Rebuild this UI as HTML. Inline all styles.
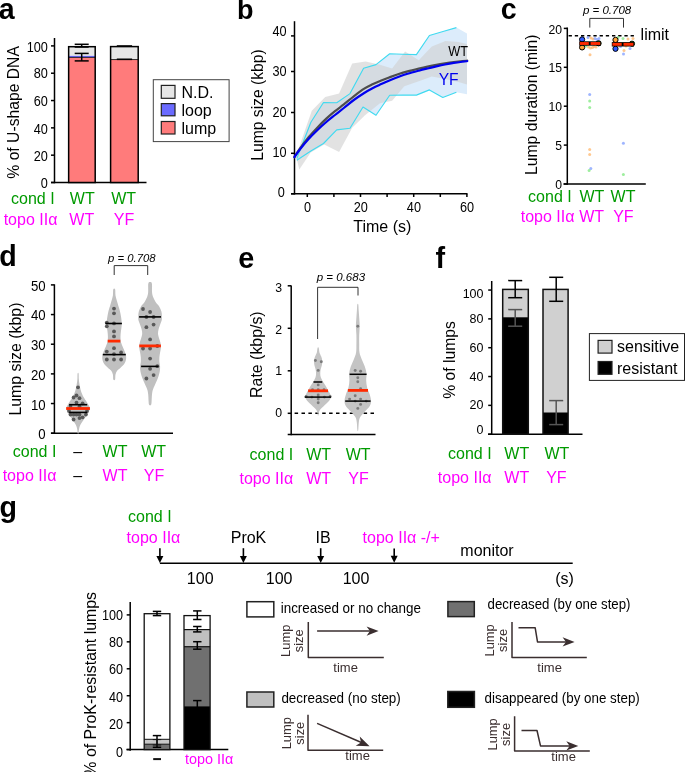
<!DOCTYPE html>
<html><head><meta charset="utf-8"><title>Figure</title>
<style>
html,body{margin:0;padding:0;background:#fff;}
body{width:685px;height:772px;overflow:hidden;}
svg{display:block;font-family:"Liberation Sans", sans-serif;will-change:transform;}
</style></head><body>
<svg width="685" height="772" viewBox="0 0 685 772">
<text x="-1.36" y="19.25" font-size="28.6" font-weight="bold">a</text>
<text x="237" y="18.8" font-size="27" font-weight="bold">b</text>
<text x="500.81" y="19.45" font-size="28.6" font-weight="bold">c</text>
<text x="-0.73" y="266.02" font-size="28.6" font-weight="bold">d</text>
<text x="238.37" y="267.91" font-size="28.8" font-weight="bold">e</text>
<text x="435.38" y="267.58" font-size="28.8" font-weight="bold">f</text>
<text x="-0.46" y="516.62" font-size="28.6" font-weight="bold">g</text>
<line x1="54.5" y1="38" x2="54.5" y2="183.25" stroke="#000" stroke-width="1.5" />
<line x1="51" y1="182.5" x2="54.5" y2="182.5" stroke="#000" stroke-width="1.5" />
<text x="47.9" y="187.5" font-size="13.84" text-anchor="end" textLength="7.06" lengthAdjust="spacingAndGlyphs">0</text>
<line x1="51" y1="155.18" x2="54.5" y2="155.18" stroke="#000" stroke-width="1.5" />
<text x="47.9" y="161.3" font-size="13.84" text-anchor="end" textLength="14.13" lengthAdjust="spacingAndGlyphs">20</text>
<line x1="51" y1="127.86" x2="54.5" y2="127.86" stroke="#000" stroke-width="1.5" />
<text x="47.9" y="134.1" font-size="13.84" text-anchor="end" textLength="14.13" lengthAdjust="spacingAndGlyphs">40</text>
<line x1="51" y1="100.54" x2="54.5" y2="100.54" stroke="#000" stroke-width="1.5" />
<text x="47.9" y="106" font-size="13.84" text-anchor="end" textLength="14.13" lengthAdjust="spacingAndGlyphs">60</text>
<line x1="51" y1="73.22" x2="54.5" y2="73.22" stroke="#000" stroke-width="1.5" />
<text x="47.9" y="78.1" font-size="13.84" text-anchor="end" textLength="14.13" lengthAdjust="spacingAndGlyphs">80</text>
<line x1="51" y1="45.9" x2="54.5" y2="45.9" stroke="#000" stroke-width="1.5" />
<text x="47.9" y="51.5" font-size="13.84" text-anchor="end" textLength="21.19" lengthAdjust="spacingAndGlyphs">100</text>
<line x1="51" y1="182.5" x2="146.5" y2="182.5" stroke="#000" stroke-width="1.5" />
<rect x="68.65" y="57.37" width="26.55" height="125.13" fill="#ff7b7b" />
<rect x="68.65" y="55.6" width="26.55" height="1.78" fill="#6b6bff" />
<rect x="68.65" y="46.7" width="26.55" height="8.9" fill="#e6e6e6" />
<rect x="68.65" y="46.7" width="26.55" height="135.8" fill="none" stroke="#000" stroke-width="1.5" />
<line x1="68.65" y1="57.37" x2="95.2" y2="57.37" stroke="#000" stroke-width="0.8" />
<line x1="81.7" y1="44.3" x2="81.7" y2="47" stroke="#000" stroke-width="1.5" />
<line x1="74.7" y1="44.3" x2="88.7" y2="44.3" stroke="#000" stroke-width="1.5" />
<line x1="74.7" y1="47" x2="88.7" y2="47" stroke="#000" stroke-width="1.5" />
<line x1="81.7" y1="53.4" x2="81.7" y2="60.9" stroke="#000" stroke-width="1.5" />
<line x1="74.7" y1="53.4" x2="88.7" y2="53.4" stroke="#000" stroke-width="1.5" />
<line x1="74.7" y1="60.9" x2="88.7" y2="60.9" stroke="#000" stroke-width="1.5" />
<rect x="110.6" y="59.56" width="27.6" height="122.94" fill="#ff7b7b" />
<rect x="110.6" y="46.6" width="27.6" height="12.96" fill="#e6e6e6" />
<rect x="110.6" y="46.6" width="27.6" height="135.9" fill="none" stroke="#000" stroke-width="1.5" />
<line x1="110.6" y1="59.56" x2="138.2" y2="59.56" stroke="#000" stroke-width="0.8" />
<line x1="116.8" y1="59.3" x2="132.1" y2="59.3" stroke="#000" stroke-width="1.6" />
<line x1="116.8" y1="46" x2="132.1" y2="46" stroke="#000" stroke-width="1.6" />
<rect x="153.3" y="79.7" width="75.8" height="61.9" fill="#fff" stroke="#444" stroke-width="1" />
<rect x="161.3" y="85.4" width="13.7" height="12.9" fill="#e6e6e6" stroke="#222" stroke-width="1.2" />
<rect x="161.3" y="103.6" width="13.7" height="12.2" fill="#6b6bff" stroke="#222" stroke-width="1.2" />
<rect x="161.3" y="121.5" width="13.7" height="12.5" fill="#ff7b7b" stroke="#222" stroke-width="1.2" />
<text x="181.5" y="97.9" font-size="16">N.D.</text>
<text x="181.5" y="115.5" font-size="16">loop</text>
<text x="181.5" y="133.5" font-size="16">lump</text>
<text x="18.7" y="112.4" font-size="15.7" text-anchor="middle" transform="rotate(-90 18.7 112.4)">% of U-shape DNA</text>
<text x="54.6" y="204.4" font-size="16" fill="#009a00" text-anchor="end">cond I</text>
<text x="82.3" y="204.1" font-size="16" fill="#009a00" text-anchor="middle">WT</text>
<text x="123.6" y="204.1" font-size="16" fill="#009a00" text-anchor="middle">WT</text>
<text x="57.4" y="224.9" font-size="16" fill="#ff00ff" text-anchor="end">topo IIα</text>
<text x="81.8" y="224.6" font-size="16" fill="#ff00ff" text-anchor="middle">WT</text>
<text x="124.1" y="224.6" font-size="16" fill="#ff00ff" text-anchor="middle">YF</text>
<line x1="294.5" y1="21.2" x2="294.5" y2="194.55" stroke="#000" stroke-width="1.5" />
<line x1="291" y1="193.8" x2="294.5" y2="193.8" stroke="#000" stroke-width="1.5" />
<text x="284.8" y="197" font-size="13.84" text-anchor="end" textLength="7.06" lengthAdjust="spacingAndGlyphs">0</text>
<line x1="291" y1="153.3" x2="294.5" y2="153.3" stroke="#000" stroke-width="1.5" />
<text x="286.6" y="157.1" font-size="13.84" text-anchor="end" textLength="14.13" lengthAdjust="spacingAndGlyphs">10</text>
<line x1="291" y1="112.5" x2="294.5" y2="112.5" stroke="#000" stroke-width="1.5" />
<text x="286.6" y="117" font-size="13.84" text-anchor="end" textLength="14.13" lengthAdjust="spacingAndGlyphs">20</text>
<line x1="291" y1="71.5" x2="294.5" y2="71.5" stroke="#000" stroke-width="1.5" />
<text x="286.6" y="76.3" font-size="13.84" text-anchor="end" textLength="14.13" lengthAdjust="spacingAndGlyphs">30</text>
<line x1="291" y1="35.9" x2="294.5" y2="35.9" stroke="#000" stroke-width="1.5" />
<text x="286.6" y="35.5" font-size="13.84" text-anchor="end" textLength="14.13" lengthAdjust="spacingAndGlyphs">40</text>
<line x1="291.1" y1="193.8" x2="467.5" y2="193.8" stroke="#000" stroke-width="1.5" />
<line x1="307.3" y1="193.8" x2="307.3" y2="197" stroke="#000" stroke-width="1.5" />
<line x1="333.9" y1="193.8" x2="333.9" y2="197" stroke="#000" stroke-width="1.5" />
<line x1="360.5" y1="193.8" x2="360.5" y2="197" stroke="#000" stroke-width="1.5" />
<line x1="387.1" y1="193.8" x2="387.1" y2="197" stroke="#000" stroke-width="1.5" />
<line x1="413.7" y1="193.8" x2="413.7" y2="197" stroke="#000" stroke-width="1.5" />
<line x1="440.3" y1="193.8" x2="440.3" y2="197" stroke="#000" stroke-width="1.5" />
<line x1="466.9" y1="193.8" x2="466.9" y2="197" stroke="#000" stroke-width="1.5" />
<text x="307.5" y="212.2" font-size="13.84" text-anchor="middle" textLength="7.06" lengthAdjust="spacingAndGlyphs">0</text>
<text x="360.7" y="212.2" font-size="13.84" text-anchor="middle" textLength="14.13" lengthAdjust="spacingAndGlyphs">20</text>
<text x="413.9" y="212.2" font-size="13.84" text-anchor="middle" textLength="14.13" lengthAdjust="spacingAndGlyphs">40</text>
<text x="467.1" y="212.2" font-size="13.84" text-anchor="middle" textLength="14.13" lengthAdjust="spacingAndGlyphs">60</text>
<text x="382.3" y="232.1" font-size="16" text-anchor="middle">Time (s)</text>
<text x="262.7" y="105" font-size="15.7" text-anchor="middle" transform="rotate(-90 262.7 105)">Lump size (kbp)</text>
<path d="M296.8 158.5 L310.9 122.2 L323.5 102.5 L336.7 102.7 L350 93.6 L363.6 68.3 L376 64.6 L389.7 53.8 L403 54.2 L416.4 54.6 L429.4 35.5 L443 31.5 L456.4 27.6 L467 33.6 L467 94.3 L456.4 92.3 L442.8 97.5 L429.4 89.9 L416.4 95.1 L403 95.1 L389.7 95.3 L376 115.3 L363 107 L350 128.3 L336.7 129.9 L323.5 143.5 L310.9 151 L296.8 160.3 Z" fill="#dcecfb" />
<path d="M296 156 L311.8 110.8 L325.2 97.1 L339.1 93.6 L352.2 63.5 L365.6 61.5 L379 64.4 L392.1 68.4 L405.1 51.4 L418.8 60.3 L431.8 46.6 L445.5 40.9 L458.5 42 L467 44.1 L467 84.6 L458.5 82 L445.5 79 L431.8 76.5 L418.8 81.3 L404.3 86.2 L392.1 100.8 L380 103.2 L365 115.3 L352.2 127.8 L339.1 152 L324.2 144.4 L310.7 152.6 L299.3 169.5 Z" fill="#d2d2d2" fill-opacity="0.64"/>
<path d="M296.8 158.5 L310.9 122.2 L323.5 102.5 L336.7 102.7 L350 93.6 L363.6 68.3 L376 64.6 L389.7 53.8 L403 54.2 L416.4 54.6 L429.4 35.5 L443 31.5 L456.4 27.6" fill="none" stroke="#40daf0" stroke-width="1.15" stroke-linejoin="round" />
<path d="M296.8 160.3 L310.9 151 L323.5 143.5 L336.7 129.9 L350 128.3 L363 107 L376 115.3 L389.7 95.3 L403 95.1 L416.4 95.1 L429.4 89.9 L442.8 97.5 L456.4 92.3" fill="none" stroke="#40daf0" stroke-width="1.15" stroke-linejoin="round" />
<path d="M294.4 157.1 C295.33 155.67 297.6 151.85 300 148.5 C302.4 145.15 305.88 140.52 308.8 137 C311.72 133.48 314.58 130.47 317.5 127.4 C320.42 124.33 323.38 121.3 326.3 118.6 C329.22 115.9 332.08 113.57 335 111.2 C337.92 108.83 340.67 106.88 343.8 104.4 C346.93 101.92 350.47 98.88 353.8 96.3 C357.13 93.72 360.68 90.9 363.8 88.9 C366.92 86.9 369.58 85.72 372.5 84.3 C375.42 82.88 378.38 81.6 381.3 80.4 C384.22 79.2 387.08 78.17 390 77.1 C392.92 76.03 395.87 74.95 398.8 74 C401.73 73.05 404.27 72.3 407.6 71.4 C410.93 70.5 415.48 69.4 418.8 68.6 C422.12 67.8 424.58 67.23 427.5 66.6 C430.42 65.97 433.38 65.35 436.3 64.8 C439.22 64.25 442.08 63.77 445 63.3 C447.92 62.83 450.87 62.38 453.8 62 C456.73 61.62 460.37 61.22 462.6 61 C464.83 60.78 466.43 60.75 467.2 60.7" fill="none" stroke="#4d4d4d" stroke-width="2.2" stroke-linecap="round"/>
<path d="M294.4 157.1 C295.33 155.8 297.6 152.35 300 149.3 C302.4 146.25 305.88 142.02 308.8 138.8 C311.72 135.58 314.58 132.8 317.5 130 C320.42 127.2 323.38 124.5 326.3 122 C329.22 119.5 332.08 117.33 335 115 C337.92 112.67 340.67 110.5 343.8 108 C346.93 105.5 350.47 102.47 353.8 100 C357.13 97.53 360.68 95.17 363.8 93.2 C366.92 91.23 369.58 89.72 372.5 88.2 C375.42 86.68 378.38 85.42 381.3 84.1 C384.22 82.78 387.08 81.52 390 80.3 C392.92 79.08 395.87 77.88 398.8 76.8 C401.73 75.72 404.27 74.82 407.6 73.8 C410.93 72.78 415.48 71.58 418.8 70.7 C422.12 69.82 424.58 69.22 427.5 68.5 C430.42 67.78 433.38 67.07 436.3 66.4 C439.22 65.73 442.08 65.08 445 64.5 C447.92 63.92 450.87 63.37 453.8 62.9 C456.73 62.43 460.37 61.98 462.6 61.7 C464.83 61.42 466.43 61.28 467.2 61.2" fill="none" stroke="#0000f0" stroke-width="2.2" stroke-linecap="round"/>
<text x="448.3" y="55.9" font-size="14.6" textLength="19.8" lengthAdjust="spacingAndGlyphs">WT</text>
<text x="438.7" y="84.9" font-size="15.6" fill="#0000ee">YF</text>
<line x1="567.3" y1="27.5" x2="567.3" y2="184.75" stroke="#000" stroke-width="1.5" />
<line x1="563.8" y1="184" x2="567.3" y2="184" stroke="#000" stroke-width="1.5" />
<text x="562" y="188.81" font-size="13.3" text-anchor="end" textLength="6.79" lengthAdjust="spacingAndGlyphs">0</text>
<line x1="563.8" y1="145.1" x2="567.3" y2="145.1" stroke="#000" stroke-width="1.5" />
<text x="562" y="150.01" font-size="13.3" text-anchor="end" textLength="6.79" lengthAdjust="spacingAndGlyphs">5</text>
<line x1="563.8" y1="106.2" x2="567.3" y2="106.2" stroke="#000" stroke-width="1.5" />
<text x="562" y="110.91" font-size="13.3" text-anchor="end" textLength="13.57" lengthAdjust="spacingAndGlyphs">10</text>
<line x1="563.8" y1="67.3" x2="567.3" y2="67.3" stroke="#000" stroke-width="1.5" />
<text x="562" y="72.41" font-size="13.3" text-anchor="end" textLength="13.57" lengthAdjust="spacingAndGlyphs">15</text>
<line x1="563.8" y1="28.4" x2="567.3" y2="28.4" stroke="#000" stroke-width="1.5" />
<text x="562" y="33.51" font-size="13.3" text-anchor="end" textLength="13.57" lengthAdjust="spacingAndGlyphs">20</text>
<line x1="563.5" y1="184" x2="645.8" y2="184" stroke="#000" stroke-width="1.5" />
<line x1="568.6" y1="35.7" x2="636.3" y2="35.7" stroke="#000" stroke-width="1.6" stroke-dasharray="3.3 2.9"/>
<text x="640.6" y="40.2" font-size="16">limit</text>
<text x="607.1" y="13.8" font-size="11.5" text-anchor="middle" font-style="italic">p = 0.708</text>
<path d="M589.8 27.6 L589.8 18.4 L623.5 18.4 L623.5 27.6" fill="none" stroke="#333" stroke-width="1" stroke-linejoin="round" />
<text x="536.9" y="104.7" font-size="15.7" text-anchor="middle" transform="rotate(-90 536.9 104.7)">Lump duration (min)</text>
<circle cx="589.7" cy="94.5" r="1.5" fill="#7f9cff" fill-opacity="0.75"/>
<circle cx="589.7" cy="101.1" r="1.5" fill="#7ee87e" fill-opacity="0.75"/>
<circle cx="589.7" cy="107.5" r="1.5" fill="#7ee87e" fill-opacity="0.75"/>
<circle cx="589.7" cy="149.4" r="1.5" fill="#ffb56b" fill-opacity="0.75"/>
<circle cx="589.7" cy="154.4" r="1.5" fill="#ffb56b" fill-opacity="0.75"/>
<circle cx="590.8" cy="168.6" r="1.5" fill="#7f9cff" fill-opacity="0.75"/>
<circle cx="589.1" cy="170.6" r="1.5" fill="#7ee87e" fill-opacity="0.75"/>
<circle cx="623.4" cy="143.3" r="1.5" fill="#7f9cff" fill-opacity="0.75"/>
<circle cx="623.4" cy="174.5" r="1.5" fill="#7ee87e" fill-opacity="0.75"/>
<circle cx="590" cy="54.7" r="1.5" fill="#ffb56b" fill-opacity="0.75"/>
<circle cx="588" cy="37.5" r="1.5" fill="#7f9cff" fill-opacity="0.75"/>
<circle cx="591" cy="38" r="1.5" fill="#ffb56b" fill-opacity="0.75"/>
<circle cx="593" cy="39" r="1.5" fill="#ffb56b" fill-opacity="0.75"/>
<circle cx="595" cy="38.5" r="1.5" fill="#7f9cff" fill-opacity="0.75"/>
<circle cx="597" cy="39.5" r="1.5" fill="#7f9cff" fill-opacity="0.75"/>
<circle cx="599" cy="38.5" r="1.5" fill="#7f9cff" fill-opacity="0.75"/>
<circle cx="588.5" cy="47" r="1.5" fill="#ffb56b" fill-opacity="0.75"/>
<circle cx="590.5" cy="48" r="1.5" fill="#ffb56b" fill-opacity="0.75"/>
<circle cx="592.5" cy="47.5" r="1.5" fill="#ffb56b" fill-opacity="0.75"/>
<circle cx="586" cy="46" r="1.5" fill="#7ee87e" fill-opacity="0.75"/>
<circle cx="594" cy="46.5" r="1.5" fill="#ffb56b" fill-opacity="0.75"/>
<circle cx="596" cy="47" r="1.5" fill="#ffb56b" fill-opacity="0.75"/>
<circle cx="618" cy="37.5" r="1.5" fill="#7ee87e" fill-opacity="0.75"/>
<circle cx="623" cy="38.5" r="1.5" fill="#7ee87e" fill-opacity="0.75"/>
<circle cx="628" cy="39" r="1.5" fill="#ffb56b" fill-opacity="0.75"/>
<circle cx="633" cy="38.5" r="1.5" fill="#ffb56b" fill-opacity="0.75"/>
<circle cx="630" cy="48.5" r="1.5" fill="#7f9cff" fill-opacity="0.75"/>
<circle cx="624" cy="50.5" r="1.5" fill="#ffb56b" fill-opacity="0.75"/>
<circle cx="623.5" cy="54" r="1.5" fill="#7f9cff" fill-opacity="0.75"/>
<circle cx="620.5" cy="46.5" r="1.5" fill="#7f9cff" fill-opacity="0.75"/>
<circle cx="626" cy="46" r="1.5" fill="#ffb56b" fill-opacity="0.75"/>
<circle cx="582.1" cy="39.4" r="2.6" fill="#2e5bff" stroke="#000" stroke-width="1"/>
<circle cx="582.1" cy="47.4" r="2.6" fill="#ffa23a" stroke="#000" stroke-width="1"/>
<circle cx="598.6" cy="43.3" r="2.6" fill="#2ec82e" stroke="#000" stroke-width="1"/>
<line x1="579.2" y1="43.5" x2="600.8" y2="43.5" stroke="#000" stroke-width="4.4" />
<line x1="579.8" y1="43.5" x2="588.8" y2="43.5" stroke="#ff2a00" stroke-width="2.9" />
<line x1="590.6" y1="43.5" x2="600.2" y2="43.5" stroke="#ff2a00" stroke-width="2.9" />
<circle cx="615.5" cy="39.9" r="2.6" fill="#ffa23a" stroke="#000" stroke-width="1"/>
<circle cx="615.5" cy="48.8" r="2.6" fill="#2e5bff" stroke="#000" stroke-width="1"/>
<circle cx="632" cy="43.7" r="2.6" fill="#2ec82e" stroke="#000" stroke-width="1"/>
<line x1="611.8" y1="44.3" x2="634" y2="44.3" stroke="#000" stroke-width="4.4" />
<line x1="612.4" y1="44.3" x2="621.7" y2="44.3" stroke="#ff2a00" stroke-width="2.9" />
<line x1="623.5" y1="44.3" x2="633.4" y2="44.3" stroke="#ff2a00" stroke-width="2.9" />
<text x="571.7" y="202.3" font-size="16" fill="#009a00" text-anchor="end">cond I</text>
<text x="591.9" y="202.3" font-size="16" fill="#009a00" text-anchor="middle">WT</text>
<text x="623" y="202.3" font-size="16" fill="#009a00" text-anchor="middle">WT</text>
<text x="574.5" y="222.3" font-size="16" fill="#ff00ff" text-anchor="end">topo IIα</text>
<text x="591.7" y="222.3" font-size="16" fill="#ff00ff" text-anchor="middle">WT</text>
<text x="623.4" y="222.3" font-size="16" fill="#ff00ff" text-anchor="middle">YF</text>
<line x1="54.4" y1="284.3" x2="54.4" y2="433.95" stroke="#000" stroke-width="1.5" />
<line x1="50.9" y1="433.2" x2="54.4" y2="433.2" stroke="#000" stroke-width="1.5" />
<text x="45.6" y="439.49" font-size="14.39" text-anchor="end" textLength="7.34" lengthAdjust="spacingAndGlyphs">0</text>
<line x1="50.9" y1="403.54" x2="54.4" y2="403.54" stroke="#000" stroke-width="1.5" />
<text x="45.6" y="409.69" font-size="14.39" text-anchor="end" textLength="14.68" lengthAdjust="spacingAndGlyphs">10</text>
<line x1="50.9" y1="373.88" x2="54.4" y2="373.88" stroke="#000" stroke-width="1.5" />
<text x="45.6" y="379.79" font-size="14.39" text-anchor="end" textLength="14.68" lengthAdjust="spacingAndGlyphs">20</text>
<line x1="50.9" y1="344.22" x2="54.4" y2="344.22" stroke="#000" stroke-width="1.5" />
<text x="45.6" y="349.89" font-size="14.39" text-anchor="end" textLength="14.68" lengthAdjust="spacingAndGlyphs">30</text>
<line x1="50.9" y1="314.56" x2="54.4" y2="314.56" stroke="#000" stroke-width="1.5" />
<text x="45.6" y="320.49" font-size="14.39" text-anchor="end" textLength="14.68" lengthAdjust="spacingAndGlyphs">40</text>
<line x1="50.9" y1="284.9" x2="54.4" y2="284.9" stroke="#000" stroke-width="1.5" />
<text x="45.6" y="290.79" font-size="14.39" text-anchor="end" textLength="14.68" lengthAdjust="spacingAndGlyphs">50</text>
<line x1="51" y1="433.2" x2="173" y2="433.2" stroke="#000" stroke-width="1.5" />
<text x="131.8" y="261.5" font-size="11.3" text-anchor="middle" font-style="italic">p = 0.708</text>
<path d="M114.2 275 L114.2 265.6 L147.7 265.6 L147.7 275" fill="none" stroke="#333" stroke-width="1" stroke-linejoin="round" />
<text x="20.7" y="359.1" font-size="15.9" text-anchor="middle" transform="rotate(-90 20.7 359.1)">Lump size (kbp)</text>
<path d="M78.6 373.4 C78.8 374.32 78.65 377.08 78.8 378.9 C78.95 380.72 79.2 382.48 79.5 384.3 C79.8 386.12 80.08 387.98 80.6 389.8 C81.12 391.62 81.73 393.4 82.6 395.2 C83.47 397 84.88 399.08 85.8 400.6 C86.72 402.12 87.42 403.02 88.1 404.3 C88.78 405.58 89.83 406.95 89.9 408.3 C89.97 409.65 89.1 411.12 88.5 412.4 C87.9 413.68 87.1 414.78 86.3 416 C85.5 417.22 84.53 418.48 83.7 419.7 C82.87 420.92 82 422.1 81.3 423.3 C80.6 424.5 79.92 425.68 79.5 426.9 C79.08 428.12 78.95 429.53 78.8 430.6 C78.65 431.67 78.8 432.85 78.6 433.3 C78.4 433.75 77.8 433.75 77.6 433.3 C77.4 432.85 77.55 431.67 77.4 430.6 C77.25 429.53 77.12 428.12 76.7 426.9 C76.28 425.68 75.6 424.5 74.9 423.3 C74.2 422.1 73.33 420.92 72.5 419.7 C71.67 418.48 70.7 417.22 69.9 416 C69.1 414.78 68.3 413.68 67.7 412.4 C67.1 411.12 66.23 409.65 66.3 408.3 C66.37 406.95 67.42 405.58 68.1 404.3 C68.78 403.02 69.48 402.12 70.4 400.6 C71.32 399.08 72.73 397 73.6 395.2 C74.47 393.4 75.08 391.62 75.6 389.8 C76.12 387.98 76.4 386.12 76.7 384.3 C77 382.48 77.25 380.72 77.4 378.9 C77.55 377.08 77.4 374.32 77.6 373.4 C77.8 372.48 78.4 372.48 78.6 373.4Z" fill="#c0c0c0"/>
<path d="M115.1 289.3 C115.47 290.32 115.22 293.53 115.5 295.4 C115.78 297.27 116.33 298.78 116.8 300.5 C117.27 302.22 117.78 303.97 118.3 305.7 C118.82 307.43 119.47 309.17 119.9 310.9 C120.33 312.63 120.62 314.37 120.9 316.1 C121.18 317.83 121.48 319.57 121.6 321.3 C121.72 323.03 121.72 324.78 121.6 326.5 C121.48 328.22 121.08 329.88 120.9 331.6 C120.72 333.32 120.5 335.07 120.5 336.8 C120.5 338.53 120.5 340.27 120.9 342 C121.3 343.73 122.2 345.47 122.9 347.2 C123.6 348.93 124.57 350.9 125.1 352.4 C125.63 353.9 125.97 354.92 126.1 356.2 C126.23 357.48 126.22 358.8 125.9 360.1 C125.58 361.4 125.13 362.7 124.2 364 C123.27 365.3 121.45 366.82 120.3 367.9 C119.15 368.98 118.1 369.42 117.3 370.5 C116.5 371.58 115.87 372.88 115.5 374.4 C115.13 375.92 115.47 378.73 115.1 379.6 C114.73 380.47 113.67 380.47 113.3 379.6 C112.93 378.73 113.27 375.92 112.9 374.4 C112.53 372.88 111.9 371.58 111.1 370.5 C110.3 369.42 109.25 368.98 108.1 367.9 C106.95 366.82 105.13 365.3 104.2 364 C103.27 362.7 102.82 361.4 102.5 360.1 C102.18 358.8 102.17 357.48 102.3 356.2 C102.43 354.92 102.77 353.9 103.3 352.4 C103.83 350.9 104.8 348.93 105.5 347.2 C106.2 345.47 107.1 343.73 107.5 342 C107.9 340.27 107.9 338.53 107.9 336.8 C107.9 335.07 107.68 333.32 107.5 331.6 C107.32 329.88 106.92 328.22 106.8 326.5 C106.68 324.78 106.68 323.03 106.8 321.3 C106.92 319.57 107.22 317.83 107.5 316.1 C107.78 314.37 108.07 312.63 108.5 310.9 C108.93 309.17 109.58 307.43 110.1 305.7 C110.62 303.97 111.13 302.22 111.6 300.5 C112.07 298.78 112.62 297.27 112.9 295.4 C113.18 293.53 112.93 290.32 113.3 289.3 C113.67 288.28 114.73 288.28 115.1 289.3Z" fill="#c0c0c0"/>
<path d="M150.8 282.1 C151.2 282.28 151.59 282.55 151.8 283.2 C152.01 283.85 152.01 284.5 152.05 286 C152.09 287.5 151.89 290.42 152.05 292.2 C152.21 293.98 152.41 295.08 153 296.7 C153.59 298.32 154.57 300.28 155.6 301.9 C156.63 303.52 158.23 304.78 159.2 306.4 C160.17 308.02 160.95 309.98 161.4 311.6 C161.85 313.22 161.83 314.7 161.9 316.1 C161.97 317.5 162.1 318.57 161.8 320 C161.5 321.43 160.63 323.15 160.1 324.7 C159.57 326.25 158.95 327.75 158.6 329.3 C158.25 330.85 157.9 332.43 158 334 C158.1 335.57 158.77 337.15 159.2 338.7 C159.63 340.25 160.32 341.75 160.6 343.3 C160.88 344.85 160.98 346.45 160.9 348 C160.82 349.55 160.35 351.05 160.1 352.6 C159.85 354.15 159.52 355.73 159.4 357.3 C159.28 358.87 159.28 360.45 159.4 362 C159.52 363.55 160.03 365.05 160.1 366.6 C160.17 368.15 160.05 369.73 159.8 371.3 C159.55 372.87 159.08 374.45 158.6 376 C158.12 377.55 157.53 379.05 156.9 380.6 C156.27 382.15 155.48 383.73 154.8 385.3 C154.12 386.87 153.27 388.45 152.8 390 C152.33 391.55 152.2 392.67 152 394.6 C151.8 396.53 151.72 399.98 151.6 401.6 C151.48 403.22 151.47 403.68 151.3 404.3 C151.13 404.92 150.88 405.13 150.6 405.3 C150.32 405.47 149.88 405.47 149.6 405.3 C149.32 405.13 149.07 404.92 148.9 404.3 C148.73 403.68 148.72 403.22 148.6 401.6 C148.48 399.98 148.4 396.53 148.2 394.6 C148 392.67 147.87 391.55 147.4 390 C146.93 388.45 146.08 386.87 145.4 385.3 C144.72 383.73 143.93 382.15 143.3 380.6 C142.67 379.05 142.08 377.55 141.6 376 C141.12 374.45 140.65 372.87 140.4 371.3 C140.15 369.73 140.03 368.15 140.1 366.6 C140.17 365.05 140.68 363.55 140.8 362 C140.92 360.45 140.92 358.87 140.8 357.3 C140.68 355.73 140.35 354.15 140.1 352.6 C139.85 351.05 139.38 349.55 139.3 348 C139.22 346.45 139.32 344.85 139.6 343.3 C139.88 341.75 140.57 340.25 141 338.7 C141.43 337.15 142.1 335.57 142.2 334 C142.3 332.43 141.95 330.85 141.6 329.3 C141.25 327.75 140.63 326.25 140.1 324.7 C139.57 323.15 138.7 321.43 138.4 320 C138.1 318.57 138.23 317.5 138.3 316.1 C138.37 314.7 138.35 313.22 138.8 311.6 C139.25 309.98 140.03 308.02 141 306.4 C141.97 304.78 143.57 303.52 144.6 301.9 C145.63 300.28 146.61 298.32 147.2 296.7 C147.79 295.08 147.99 293.98 148.15 292.2 C148.31 290.42 148.11 287.5 148.15 286 C148.19 284.5 148.19 283.85 148.4 283.2 C148.61 282.55 149 282.28 149.4 282.1 C149.8 281.92 150.4 281.92 150.8 282.1Z" fill="#c0c0c0"/>
<circle cx="114" cy="308.6" r="1.9" fill="#595959"/>
<circle cx="114" cy="313.3" r="1.9" fill="#595959"/>
<circle cx="106.8" cy="322.6" r="1.9" fill="#595959"/>
<circle cx="106.8" cy="326.3" r="1.9" fill="#595959"/>
<circle cx="114" cy="323.4" r="1.9" fill="#595959"/>
<circle cx="114" cy="331.4" r="1.9" fill="#595959"/>
<circle cx="114" cy="336.4" r="1.9" fill="#595959"/>
<circle cx="114" cy="348.2" r="1.9" fill="#595959"/>
<circle cx="106.8" cy="351.6" r="1.9" fill="#595959"/>
<circle cx="121.1" cy="352.4" r="1.9" fill="#595959"/>
<circle cx="114" cy="354.1" r="1.9" fill="#595959"/>
<circle cx="106.8" cy="359.5" r="1.9" fill="#595959"/>
<circle cx="114" cy="359.5" r="1.9" fill="#595959"/>
<circle cx="121.1" cy="359.5" r="1.9" fill="#595959"/>
<circle cx="143" cy="309" r="1.9" fill="#595959"/>
<circle cx="150.1" cy="312" r="1.9" fill="#595959"/>
<circle cx="146.4" cy="317" r="1.9" fill="#595959"/>
<circle cx="153.6" cy="317" r="1.9" fill="#595959"/>
<circle cx="153.6" cy="324.6" r="1.9" fill="#595959"/>
<circle cx="146.4" cy="327.2" r="1.9" fill="#595959"/>
<circle cx="150.1" cy="339.4" r="1.9" fill="#595959"/>
<circle cx="143" cy="348.5" r="1.9" fill="#595959"/>
<circle cx="150.1" cy="348.5" r="1.9" fill="#595959"/>
<circle cx="157.3" cy="346" r="1.9" fill="#595959"/>
<circle cx="150.1" cy="358.6" r="1.9" fill="#595959"/>
<circle cx="157.3" cy="366.2" r="1.9" fill="#595959"/>
<circle cx="150.1" cy="368.8" r="1.9" fill="#595959"/>
<circle cx="153.6" cy="375.1" r="1.9" fill="#595959"/>
<circle cx="146.4" cy="378.5" r="1.9" fill="#595959"/>
<circle cx="78" cy="387.3" r="1.9" fill="#595959"/>
<circle cx="73.6" cy="397.5" r="1.9" fill="#595959"/>
<circle cx="76.5" cy="395.5" r="1.9" fill="#595959"/>
<circle cx="79.5" cy="398.2" r="1.9" fill="#595959"/>
<circle cx="76.5" cy="402.6" r="1.9" fill="#595959"/>
<circle cx="82.6" cy="403.3" r="1.9" fill="#595959"/>
<circle cx="70.5" cy="406" r="1.9" fill="#595959"/>
<circle cx="79.5" cy="406.5" r="1.9" fill="#595959"/>
<circle cx="70.5" cy="414.6" r="1.9" fill="#595959"/>
<circle cx="73.6" cy="414.6" r="1.9" fill="#595959"/>
<circle cx="76.5" cy="414.6" r="1.9" fill="#595959"/>
<circle cx="79.5" cy="414.6" r="1.9" fill="#595959"/>
<circle cx="85.9" cy="414.6" r="1.9" fill="#595959"/>
<circle cx="73.6" cy="419.5" r="1.9" fill="#595959"/>
<circle cx="79.5" cy="418.1" r="1.9" fill="#595959"/>
<circle cx="82.6" cy="417.3" r="1.9" fill="#595959"/>
<circle cx="69" cy="411" r="1.9" fill="#595959"/>
<circle cx="87" cy="411" r="1.9" fill="#595959"/>
<line x1="105.4" y1="323.5" x2="121.9" y2="323.5" stroke="#000" stroke-width="1.6" />
<line x1="102.8" y1="354.6" x2="125.8" y2="354.6" stroke="#000" stroke-width="1.6" />
<line x1="107.7" y1="341.1" x2="120.3" y2="341.1" stroke="#ff2a00" stroke-width="2.8" />
<line x1="139.1" y1="316.9" x2="161" y2="316.9" stroke="#000" stroke-width="1.6" />
<line x1="141.1" y1="366.4" x2="158.5" y2="366.4" stroke="#000" stroke-width="1.6" />
<line x1="139.3" y1="345.9" x2="160.9" y2="345.9" stroke="#ff2a00" stroke-width="2.8" />
<line x1="69.1" y1="404.7" x2="87.2" y2="404.7" stroke="#000" stroke-width="1.6" />
<line x1="69.1" y1="412.4" x2="87.2" y2="412.4" stroke="#000" stroke-width="1.6" />
<line x1="66.2" y1="408.5" x2="89.9" y2="408.5" stroke="#ff2a00" stroke-width="2.8" />
<text x="56.4" y="457.1" font-size="16" fill="#009a00" text-anchor="end">cond I</text>
<text x="77.6" y="457.1" font-size="16" text-anchor="middle">–</text>
<text x="115" y="457.1" font-size="16" fill="#009a00" text-anchor="middle">WT</text>
<text x="153.6" y="457.1" font-size="16" fill="#009a00" text-anchor="middle">WT</text>
<text x="56.4" y="481" font-size="16" fill="#ff00ff" text-anchor="end">topo IIα</text>
<text x="77.6" y="481" font-size="16" text-anchor="middle">–</text>
<text x="115" y="481" font-size="16" fill="#ff00ff" text-anchor="middle">WT</text>
<text x="154" y="481" font-size="16" fill="#ff00ff" text-anchor="middle">YF</text>
<line x1="291.2" y1="285.5" x2="291.2" y2="435.15" stroke="#000" stroke-width="1.5" />
<line x1="287.7" y1="413.3" x2="291.2" y2="413.3" stroke="#000" stroke-width="1.5" />
<text x="282" y="416.85" font-size="13.41" text-anchor="end" textLength="6.84" lengthAdjust="spacingAndGlyphs">0</text>
<line x1="287.7" y1="370.8" x2="291.2" y2="370.8" stroke="#000" stroke-width="1.5" />
<text x="282" y="375.25" font-size="13.41" text-anchor="end" textLength="6.84" lengthAdjust="spacingAndGlyphs">1</text>
<line x1="287.7" y1="328.3" x2="291.2" y2="328.3" stroke="#000" stroke-width="1.5" />
<text x="282" y="333.55" font-size="13.41" text-anchor="end" textLength="6.84" lengthAdjust="spacingAndGlyphs">2</text>
<line x1="287.7" y1="285.8" x2="291.2" y2="285.8" stroke="#000" stroke-width="1.5" />
<text x="282" y="292.15" font-size="13.41" text-anchor="end" textLength="6.84" lengthAdjust="spacingAndGlyphs">3</text>
<line x1="287.7" y1="434.4" x2="375.5" y2="434.4" stroke="#000" stroke-width="1.5" />
<line x1="294.6" y1="413.3" x2="376.2" y2="413.3" stroke="#000" stroke-width="1.6" stroke-dasharray="3.5 3.4"/>
<text x="340.9" y="281" font-size="11.5" text-anchor="middle" font-style="italic">p = 0.683</text>
<path d="M317.6 339 L317.6 287.3 L358 287.3 L358 295.5" fill="none" stroke="#333" stroke-width="1" stroke-linejoin="round" />
<text x="261.6" y="354.6" font-size="15.9" text-anchor="middle" transform="rotate(-90 261.6 354.6)">Rate (kbp/s)</text>
<path d="M318.55 347.6 C318.77 347.92 318.9 348.7 319.05 349.5 C319.2 350.3 319.08 351.22 319.45 352.4 C319.82 353.58 320.78 355.22 321.25 356.6 C321.72 357.98 322.13 359.32 322.25 360.7 C322.37 362.08 322.2 363.52 321.95 364.9 C321.7 366.28 321.03 367.62 320.75 369 C320.47 370.38 320.25 371.82 320.25 373.2 C320.25 374.58 320.32 375.92 320.75 377.3 C321.18 378.68 322.07 380.12 322.85 381.5 C323.63 382.88 324.63 384.22 325.45 385.6 C326.27 386.98 326.97 388.42 327.75 389.8 C328.53 391.18 329.58 392.68 330.15 393.9 C330.72 395.12 331.25 396.05 331.15 397.1 C331.05 398.15 330.28 399.17 329.55 400.2 C328.82 401.23 327.78 402.27 326.75 403.3 C325.72 404.33 324.43 405.37 323.35 406.4 C322.27 407.43 321 408.47 320.25 409.5 C319.5 410.53 319.13 411.65 318.85 412.6 C318.57 413.55 318.73 414.77 318.55 415.2 C318.37 415.63 317.93 415.63 317.75 415.2 C317.57 414.77 317.73 413.55 317.45 412.6 C317.17 411.65 316.8 410.53 316.05 409.5 C315.3 408.47 314.03 407.43 312.95 406.4 C311.87 405.37 310.58 404.33 309.55 403.3 C308.52 402.27 307.48 401.23 306.75 400.2 C306.02 399.17 305.25 398.15 305.15 397.1 C305.05 396.05 305.58 395.12 306.15 393.9 C306.72 392.68 307.77 391.18 308.55 389.8 C309.33 388.42 310.03 386.98 310.85 385.6 C311.67 384.22 312.67 382.88 313.45 381.5 C314.23 380.12 315.12 378.68 315.55 377.3 C315.98 375.92 316.05 374.58 316.05 373.2 C316.05 371.82 315.83 370.38 315.55 369 C315.27 367.62 314.6 366.28 314.35 364.9 C314.1 363.52 313.93 362.08 314.05 360.7 C314.17 359.32 314.58 357.98 315.05 356.6 C315.52 355.22 316.48 353.58 316.85 352.4 C317.22 351.22 317.1 350.3 317.25 349.5 C317.4 348.7 317.53 347.92 317.75 347.6 C317.97 347.28 318.33 347.28 318.55 347.6Z" fill="#c4c4c4"/>
<path d="M358.3 304.4 C358.53 305.42 358.55 308.32 358.7 310.5 C358.85 312.68 359.03 314.88 359.2 317.5 C359.37 320.12 359.7 323.28 359.7 326.2 C359.7 329.12 359.28 332.08 359.2 335 C359.12 337.92 359.15 340.78 359.2 343.7 C359.25 346.62 359.07 349.87 359.5 352.5 C359.93 355.13 360.92 357.18 361.8 359.5 C362.68 361.82 364.02 364.08 364.8 366.4 C365.58 368.72 366.27 371.07 366.5 373.4 C366.73 375.73 366.1 378.07 366.2 380.4 C366.3 382.73 366.52 385.07 367.1 387.4 C367.68 389.73 369.03 392.07 369.7 394.4 C370.37 396.73 371.17 399.35 371.1 401.4 C371.03 403.45 370.42 404.95 369.3 406.7 C368.18 408.45 365.93 410.15 364.4 411.9 C362.87 413.65 361.03 415.45 360.1 417.2 C359.17 418.95 359.12 420.22 358.8 422.4 C358.48 424.58 358.43 428.98 358.2 430.3 C357.97 431.62 357.63 431.62 357.4 430.3 C357.17 428.98 357.12 424.58 356.8 422.4 C356.48 420.22 356.43 418.95 355.5 417.2 C354.57 415.45 352.73 413.65 351.2 411.9 C349.67 410.15 347.42 408.45 346.3 406.7 C345.18 404.95 344.57 403.45 344.5 401.4 C344.43 399.35 345.23 396.73 345.9 394.4 C346.57 392.07 347.92 389.73 348.5 387.4 C349.08 385.07 349.3 382.73 349.4 380.4 C349.5 378.07 348.87 375.73 349.1 373.4 C349.33 371.07 350.02 368.72 350.8 366.4 C351.58 364.08 352.92 361.82 353.8 359.5 C354.68 357.18 355.67 355.13 356.1 352.5 C356.53 349.87 356.35 346.62 356.4 343.7 C356.45 340.78 356.48 337.92 356.4 335 C356.32 332.08 355.9 329.12 355.9 326.2 C355.9 323.28 356.23 320.12 356.4 317.5 C356.57 314.88 356.75 312.68 356.9 310.5 C357.05 308.32 357.07 305.42 357.3 304.4 C357.53 303.38 358.07 303.38 358.3 304.4Z" fill="#c4c4c4"/>
<circle cx="315.4" cy="360.5" r="1.45" fill="#7a7a7a"/>
<circle cx="321.3" cy="361.8" r="1.45" fill="#7a7a7a"/>
<circle cx="318.2" cy="370.4" r="1.45" fill="#7a7a7a"/>
<circle cx="318.2" cy="384.9" r="1.45" fill="#7a7a7a"/>
<circle cx="318.2" cy="395" r="1.45" fill="#7a7a7a"/>
<circle cx="311.9" cy="397.1" r="1.45" fill="#7a7a7a"/>
<circle cx="318.2" cy="397.1" r="1.45" fill="#7a7a7a"/>
<circle cx="324.4" cy="397.1" r="1.45" fill="#7a7a7a"/>
<circle cx="330.1" cy="396.5" r="1.45" fill="#7a7a7a"/>
<circle cx="306.2" cy="396.5" r="1.45" fill="#7a7a7a"/>
<circle cx="318.2" cy="399.1" r="1.45" fill="#7a7a7a"/>
<circle cx="318.2" cy="402.8" r="1.45" fill="#7a7a7a"/>
<circle cx="312.5" cy="389.8" r="1.45" fill="#7a7a7a"/>
<circle cx="318.2" cy="389.8" r="1.45" fill="#7a7a7a"/>
<circle cx="324" cy="389.8" r="1.45" fill="#7a7a7a"/>
<circle cx="357.8" cy="326.2" r="1.45" fill="#7a7a7a"/>
<circle cx="355.2" cy="370.5" r="1.45" fill="#7a7a7a"/>
<circle cx="360.6" cy="371.2" r="1.45" fill="#7a7a7a"/>
<circle cx="357.8" cy="377.8" r="1.45" fill="#7a7a7a"/>
<circle cx="357.8" cy="381.8" r="1.45" fill="#7a7a7a"/>
<circle cx="360.6" cy="388.7" r="1.45" fill="#7a7a7a"/>
<circle cx="355.2" cy="395.8" r="1.45" fill="#7a7a7a"/>
<circle cx="349.6" cy="399.1" r="1.45" fill="#7a7a7a"/>
<circle cx="355.2" cy="401.1" r="1.45" fill="#7a7a7a"/>
<circle cx="360.6" cy="399.1" r="1.45" fill="#7a7a7a"/>
<circle cx="366.2" cy="401.1" r="1.45" fill="#7a7a7a"/>
<circle cx="360.6" cy="404.4" r="1.45" fill="#7a7a7a"/>
<circle cx="357.8" cy="408.4" r="1.45" fill="#7a7a7a"/>
<line x1="313.5" y1="382" x2="322.3" y2="382" stroke="#000" stroke-width="1.5" />
<line x1="304.7" y1="397.1" x2="331.1" y2="397.1" stroke="#000" stroke-width="1.5" />
<line x1="308.1" y1="390.8" x2="328" y2="390.8" stroke="#ff2a00" stroke-width="2.8" />
<line x1="349.6" y1="374.3" x2="366.6" y2="374.3" stroke="#000" stroke-width="1.5" />
<line x1="345.2" y1="401.1" x2="370.6" y2="401.1" stroke="#000" stroke-width="1.5" />
<line x1="347.9" y1="390.4" x2="368" y2="390.4" stroke="#ff2a00" stroke-width="2.8" />
<text x="293.2" y="460" font-size="16" fill="#009a00" text-anchor="end">cond I</text>
<text x="318.7" y="460" font-size="16" fill="#009a00" text-anchor="middle">WT</text>
<text x="358.2" y="460" font-size="16" fill="#009a00" text-anchor="middle">WT</text>
<text x="293.2" y="483.5" font-size="16" fill="#ff00ff" text-anchor="end">topo IIα</text>
<text x="318.7" y="483.5" font-size="16" fill="#ff00ff" text-anchor="middle">WT</text>
<text x="358.5" y="483.5" font-size="16" fill="#ff00ff" text-anchor="middle">YF</text>
<line x1="491.7" y1="281" x2="491.7" y2="434.95" stroke="#000" stroke-width="1.5" />
<line x1="488.2" y1="434.2" x2="491.7" y2="434.2" stroke="#000" stroke-width="1.5" />
<text x="483.5" y="433.52" font-size="13.63" text-anchor="end" textLength="6.95" lengthAdjust="spacingAndGlyphs">0</text>
<line x1="488.2" y1="405.37" x2="491.7" y2="405.37" stroke="#000" stroke-width="1.5" />
<text x="483.5" y="409.22" font-size="13.63" text-anchor="end" textLength="13.9" lengthAdjust="spacingAndGlyphs">20</text>
<line x1="488.2" y1="376.54" x2="491.7" y2="376.54" stroke="#000" stroke-width="1.5" />
<text x="483.5" y="381.22" font-size="13.63" text-anchor="end" textLength="13.9" lengthAdjust="spacingAndGlyphs">40</text>
<line x1="488.2" y1="347.71" x2="491.7" y2="347.71" stroke="#000" stroke-width="1.5" />
<text x="483.5" y="352.12" font-size="13.63" text-anchor="end" textLength="13.9" lengthAdjust="spacingAndGlyphs">60</text>
<line x1="488.2" y1="318.88" x2="491.7" y2="318.88" stroke="#000" stroke-width="1.5" />
<text x="483.5" y="323.22" font-size="13.63" text-anchor="end" textLength="13.9" lengthAdjust="spacingAndGlyphs">80</text>
<line x1="488.2" y1="290.05" x2="491.7" y2="290.05" stroke="#000" stroke-width="1.5" />
<text x="483.5" y="297.82" font-size="13.63" text-anchor="end" textLength="20.86" lengthAdjust="spacingAndGlyphs">100</text>
<line x1="488" y1="434.2" x2="582.5" y2="434.2" stroke="#000" stroke-width="1.5" />
<rect x="502.7" y="289.4" width="25.6" height="144.8" fill="#d0d0d0" />
<rect x="502.7" y="317.3" width="25.6" height="116.9" fill="#000" />
<rect x="502.7" y="289.4" width="25.6" height="144.8" fill="none" stroke="#111" stroke-width="1.5" />
<line x1="515.2" y1="280.6" x2="515.2" y2="297.7" stroke="#000" stroke-width="1.5" />
<line x1="508.2" y1="280.6" x2="522.2" y2="280.6" stroke="#000" stroke-width="1.5" />
<line x1="508.2" y1="297.7" x2="522.2" y2="297.7" stroke="#000" stroke-width="1.5" />
<line x1="515.2" y1="309.6" x2="515.2" y2="326.2" stroke="#555" stroke-width="1.5" />
<line x1="508.2" y1="309.6" x2="522.2" y2="309.6" stroke="#555" stroke-width="1.5" />
<line x1="508.2" y1="326.2" x2="522.2" y2="326.2" stroke="#555" stroke-width="1.5" />
<rect x="543" y="289.4" width="25.1" height="144.8" fill="#d0d0d0" />
<rect x="543" y="412.5" width="25.1" height="21.7" fill="#000" />
<rect x="543" y="289.4" width="25.1" height="144.8" fill="none" stroke="#111" stroke-width="1.5" />
<line x1="556.2" y1="277.3" x2="556.2" y2="301.3" stroke="#000" stroke-width="1.5" />
<line x1="549.2" y1="277.3" x2="563.2" y2="277.3" stroke="#000" stroke-width="1.5" />
<line x1="549.2" y1="301.3" x2="563.2" y2="301.3" stroke="#000" stroke-width="1.5" />
<line x1="556.2" y1="400.6" x2="556.2" y2="424.6" stroke="#555" stroke-width="1.5" />
<line x1="549.2" y1="400.6" x2="563.2" y2="400.6" stroke="#555" stroke-width="1.5" />
<line x1="549.2" y1="424.6" x2="563.2" y2="424.6" stroke="#555" stroke-width="1.5" />
<rect x="589.4" y="333.6" width="95.1" height="46.8" fill="#fff" stroke="#222" stroke-width="1" />
<rect x="598.1" y="340.4" width="13.9" height="12.7" fill="#d0d0d0" stroke="#222" stroke-width="1.2" />
<rect x="598.1" y="361.5" width="13.9" height="12.8" fill="#000" stroke="#222" stroke-width="1.2" />
<text x="617" y="351.6" font-size="16">sensitive</text>
<text x="617" y="373.5" font-size="16">resistant</text>
<text x="455.2" y="360" font-size="15.7" text-anchor="middle" transform="rotate(-90 455.2 360)">% of lumps</text>
<text x="491.6" y="459.1" font-size="16" fill="#009a00" text-anchor="end">cond I</text>
<text x="516.8" y="459.1" font-size="16" fill="#009a00" text-anchor="middle">WT</text>
<text x="556.9" y="459.1" font-size="16" fill="#009a00" text-anchor="middle">WT</text>
<text x="491.6" y="482.7" font-size="16" fill="#ff00ff" text-anchor="end">topo IIα</text>
<text x="516.8" y="482.7" font-size="16" fill="#ff00ff" text-anchor="middle">WT</text>
<text x="556.4" y="482.7" font-size="16" fill="#ff00ff" text-anchor="middle">YF</text>
<text x="128" y="521.8" font-size="16" fill="#009a00">cond I</text>
<text x="126.6" y="543.1" font-size="16" fill="#ff00ff">topo IIα</text>
<line x1="159.9" y1="563.3" x2="572.7" y2="563.3" stroke="#000" stroke-width="1.5" />
<line x1="159.9" y1="548.2" x2="159.9" y2="558" stroke="#000" stroke-width="1.6" />
<path d="M156.4 556 L163.4 556 L159.9 563 Z" fill="#000" />
<line x1="243.4" y1="548.2" x2="243.4" y2="558" stroke="#000" stroke-width="1.6" />
<path d="M239.9 556 L246.9 556 L243.4 563 Z" fill="#000" />
<line x1="320.7" y1="548.2" x2="320.7" y2="558" stroke="#000" stroke-width="1.6" />
<path d="M317.2 556 L324.2 556 L320.7 563 Z" fill="#000" />
<line x1="394.2" y1="548.6" x2="394.2" y2="557.8" stroke="#000" stroke-width="1.6" />
<path d="M390.7 555.8 L397.7 555.8 L394.2 562.8 Z" fill="#000" />
<text x="248.5" y="542.9" font-size="16" text-anchor="middle">ProK</text>
<text x="323" y="542.9" font-size="16" text-anchor="middle">IB</text>
<text x="362.6" y="542.9" font-size="16" fill="#ff00ff">topo IIα -/+</text>
<text x="487" y="556" font-size="16" text-anchor="middle">monitor</text>
<text x="200.2" y="583.9" font-size="16" text-anchor="middle">100</text>
<text x="279.1" y="583.9" font-size="16" text-anchor="middle">100</text>
<text x="356" y="583.9" font-size="16" text-anchor="middle">100</text>
<text x="564.5" y="584.4" font-size="16" text-anchor="middle">(s)</text>
<line x1="130.2" y1="602" x2="130.2" y2="750.65" stroke="#000" stroke-width="1.5" />
<line x1="126.7" y1="749.6" x2="130.2" y2="749.6" stroke="#000" stroke-width="1.5" />
<text x="123" y="756.56" font-size="13.73" text-anchor="end" textLength="7.01" lengthAdjust="spacingAndGlyphs">0</text>
<line x1="126.7" y1="722.66" x2="130.2" y2="722.66" stroke="#000" stroke-width="1.5" />
<text x="123" y="728.86" font-size="13.73" text-anchor="end" textLength="14.01" lengthAdjust="spacingAndGlyphs">20</text>
<line x1="126.7" y1="695.72" x2="130.2" y2="695.72" stroke="#000" stroke-width="1.5" />
<text x="123" y="701.66" font-size="13.73" text-anchor="end" textLength="14.01" lengthAdjust="spacingAndGlyphs">40</text>
<line x1="126.7" y1="668.78" x2="130.2" y2="668.78" stroke="#000" stroke-width="1.5" />
<text x="123" y="674.46" font-size="13.73" text-anchor="end" textLength="14.01" lengthAdjust="spacingAndGlyphs">60</text>
<line x1="126.7" y1="641.84" x2="130.2" y2="641.84" stroke="#000" stroke-width="1.5" />
<text x="123" y="647.16" font-size="13.73" text-anchor="end" textLength="14.01" lengthAdjust="spacingAndGlyphs">80</text>
<line x1="126.7" y1="614.9" x2="130.2" y2="614.9" stroke="#000" stroke-width="1.5" />
<text x="123" y="619.86" font-size="13.73" text-anchor="end" textLength="21.02" lengthAdjust="spacingAndGlyphs">100</text>
<line x1="126.5" y1="749.6" x2="228.3" y2="749.6" stroke="#000" stroke-width="1.5" />
<text x="95.9" y="683.8" font-size="15.9" text-anchor="middle" transform="rotate(-90 95.9 683.8)">% of ProK-resistant lumps</text>
<rect x="144.2" y="613.7" width="25.7" height="135.9" fill="#fff" />
<rect x="144.2" y="739.3" width="25.7" height="4.9" fill="#c8c8c8" />
<rect x="144.2" y="744.2" width="25.7" height="5.4" fill="#707070" />
<rect x="144.2" y="613.7" width="25.7" height="135.9" fill="none" stroke="#111" stroke-width="1.3" />
<line x1="144.2" y1="739.3" x2="169.9" y2="739.3" stroke="#111" stroke-width="1" />
<line x1="144.2" y1="744.2" x2="169.9" y2="744.2" stroke="#111" stroke-width="1" />
<line x1="157" y1="611.4" x2="157" y2="615.6" stroke="#000" stroke-width="1.5" />
<line x1="152.8" y1="611.4" x2="161.2" y2="611.4" stroke="#000" stroke-width="1.5" />
<line x1="152.8" y1="615.6" x2="161.2" y2="615.6" stroke="#000" stroke-width="1.5" />
<line x1="157" y1="735.6" x2="157" y2="747.3" stroke="#000" stroke-width="1.5" />
<line x1="152.8" y1="735.6" x2="161.2" y2="735.6" stroke="#000" stroke-width="1.5" />
<line x1="152.8" y1="747.3" x2="161.2" y2="747.3" stroke="#000" stroke-width="1.5" />
<line x1="157" y1="739.6" x2="157" y2="745" stroke="#111" stroke-width="1" />
<line x1="152.8" y1="739.6" x2="161.2" y2="739.6" stroke="#111" stroke-width="1" />
<line x1="152.8" y1="745" x2="161.2" y2="745" stroke="#111" stroke-width="1" />
<rect x="184" y="615.6" width="26.1" height="134" fill="#fff" />
<rect x="184" y="629.6" width="26.1" height="17.1" fill="#c0c0c0" />
<rect x="184" y="646.7" width="26.1" height="59.5" fill="#707070" />
<rect x="184" y="706.2" width="26.1" height="43.4" fill="#000" />
<rect x="184" y="615.6" width="26.1" height="134" fill="none" stroke="#111" stroke-width="1.3" />
<line x1="184" y1="629.6" x2="210.1" y2="629.6" stroke="#111" stroke-width="1.2" />
<line x1="184" y1="646.7" x2="210.1" y2="646.7" stroke="#111" stroke-width="1.2" />
<line x1="197.3" y1="610.9" x2="197.3" y2="619.5" stroke="#000" stroke-width="1.5" />
<line x1="193.1" y1="610.9" x2="201.5" y2="610.9" stroke="#000" stroke-width="1.5" />
<line x1="193.1" y1="619.5" x2="201.5" y2="619.5" stroke="#000" stroke-width="1.5" />
<line x1="197.3" y1="626.5" x2="197.3" y2="631.9" stroke="#000" stroke-width="1.5" />
<line x1="193.1" y1="626.5" x2="201.5" y2="626.5" stroke="#000" stroke-width="1.5" />
<line x1="193.1" y1="631.9" x2="201.5" y2="631.9" stroke="#000" stroke-width="1.5" />
<line x1="197.3" y1="641.7" x2="197.3" y2="649.2" stroke="#000" stroke-width="1.5" />
<line x1="193.1" y1="641.7" x2="201.5" y2="641.7" stroke="#000" stroke-width="1.5" />
<line x1="193.1" y1="649.2" x2="201.5" y2="649.2" stroke="#000" stroke-width="1.5" />
<line x1="197.3" y1="700.6" x2="197.3" y2="711.5" stroke="#000" stroke-width="1.5" />
<line x1="193.1" y1="700.6" x2="201.5" y2="700.6" stroke="#000" stroke-width="1.5" />
<line x1="193.1" y1="711.5" x2="201.5" y2="711.5" stroke="#000" stroke-width="1.5" />
<line x1="153.2" y1="759.1" x2="161" y2="759.1" stroke="#111" stroke-width="2" />
<text x="184.9" y="763.9" font-size="14.4" fill="#ff00ff">topo IIα</text>
<rect x="246.9" y="601.7" width="26.9" height="15.2" fill="#fff" stroke="#222" stroke-width="1.5" />
<text x="280.7" y="612.95" font-size="14.5" textLength="140.3" lengthAdjust="spacingAndGlyphs">increased or no change</text>
<rect x="447.9" y="601.6" width="26.4" height="15" fill="#707070" stroke="#222" stroke-width="1.5" />
<text x="487.6" y="609" font-size="14.5" textLength="142.9" lengthAdjust="spacingAndGlyphs">decreased (by one step)</text>
<rect x="246.9" y="692" width="26.9" height="15" fill="#c0c0c0" stroke="#222" stroke-width="1.5" />
<text x="281.4" y="703.1" font-size="14.5" textLength="119.4" lengthAdjust="spacingAndGlyphs">decreased (no step)</text>
<rect x="447.8" y="691.5" width="26.6" height="15.8" fill="#000" stroke="#222" stroke-width="1.5" />
<text x="484.6" y="703.3" font-size="14.5" textLength="155.2" lengthAdjust="spacingAndGlyphs">disappeared (by one step)</text>
<path d="M308.3 622.1 L308.3 657.5 L383.8 657.5" fill="none" stroke="#3a2e2f" stroke-width="1.5" stroke-linejoin="round" />
<line x1="317.1" y1="631.1" x2="372" y2="631.1" stroke="#3a2e2f" stroke-width="1.5" />
<path d="M378.6 631.1 L366.6 635.8 L369.96 631.1 L366.6 626.4 Z" fill="#3a2e2f" />
<text x="290.2" y="640.8" font-size="12.9" fill="#3a2e2f" text-anchor="middle" transform="rotate(-90 290.2 640.8)">Lump</text>
<text x="303.2" y="640.8" font-size="12.9" fill="#3a2e2f" text-anchor="middle" transform="rotate(-90 303.2 640.8)">size</text>
<text x="345.6" y="671.9" font-size="13" fill="#3a2e2f" text-anchor="middle">time</text>
<path d="M512 622 L512 657.5 L586.8 657.5" fill="none" stroke="#3a2e2f" stroke-width="1.5" stroke-linejoin="round" />
<path d="M518.5 627.8 L535.2 627.8 L537.5 641.9 L568 641.9" fill="none" stroke="#3a2e2f" stroke-width="1.5" stroke-linejoin="round" />
<path d="M574.6 641.9 L562.6 646.6 L565.96 641.9 L562.6 637.2 Z" fill="#3a2e2f" />
<text x="494.3" y="640.4" font-size="12.9" fill="#3a2e2f" text-anchor="middle" transform="rotate(-90 494.3 640.4)">Lump</text>
<text x="507.1" y="640.4" font-size="12.9" fill="#3a2e2f" text-anchor="middle" transform="rotate(-90 507.1 640.4)">size</text>
<text x="549.6" y="671.9" font-size="13" fill="#3a2e2f" text-anchor="middle">time</text>
<path d="M308 714.7 L308 750.2 L383.2 750.2" fill="none" stroke="#3a2e2f" stroke-width="1.5" stroke-linejoin="round" />
<line x1="317.1" y1="723.4" x2="362" y2="742.8" stroke="#3a2e2f" stroke-width="1.5" />
<path d="M369.6 746.3 L355.69 745.69 L361.02 742.56 L359.68 736.52 Z" fill="#3a2e2f" />
<text x="291" y="733.2" font-size="12.9" fill="#3a2e2f" text-anchor="middle" transform="rotate(-90 291 733.2)">Lump</text>
<text x="303.8" y="733.2" font-size="12.9" fill="#3a2e2f" text-anchor="middle" transform="rotate(-90 303.8 733.2)">size</text>
<text x="357.6" y="759.7" font-size="13" fill="#3a2e2f" text-anchor="middle">time</text>
<path d="M514.6 716.2 L514.6 751.1 L589.8 751.1" fill="none" stroke="#3a2e2f" stroke-width="1.5" stroke-linejoin="round" />
<path d="M521.5 730.5 L537 730.5 L540.5 745.9 L572 745.9" fill="none" stroke="#3a2e2f" stroke-width="1.5" stroke-linejoin="round" />
<path d="M578.3 745.9 L566.3 750.6 L569.66 745.9 L566.3 741.2 Z" fill="#3a2e2f" />
<text x="496.8" y="734.4" font-size="12.9" fill="#3a2e2f" text-anchor="middle" transform="rotate(-90 496.8 734.4)">Lump</text>
<text x="509.6" y="734.4" font-size="12.9" fill="#3a2e2f" text-anchor="middle" transform="rotate(-90 509.6 734.4)">size</text>
<text x="563.6" y="760.6" font-size="13" fill="#3a2e2f" text-anchor="middle">time</text>
</svg>
</body></html>
